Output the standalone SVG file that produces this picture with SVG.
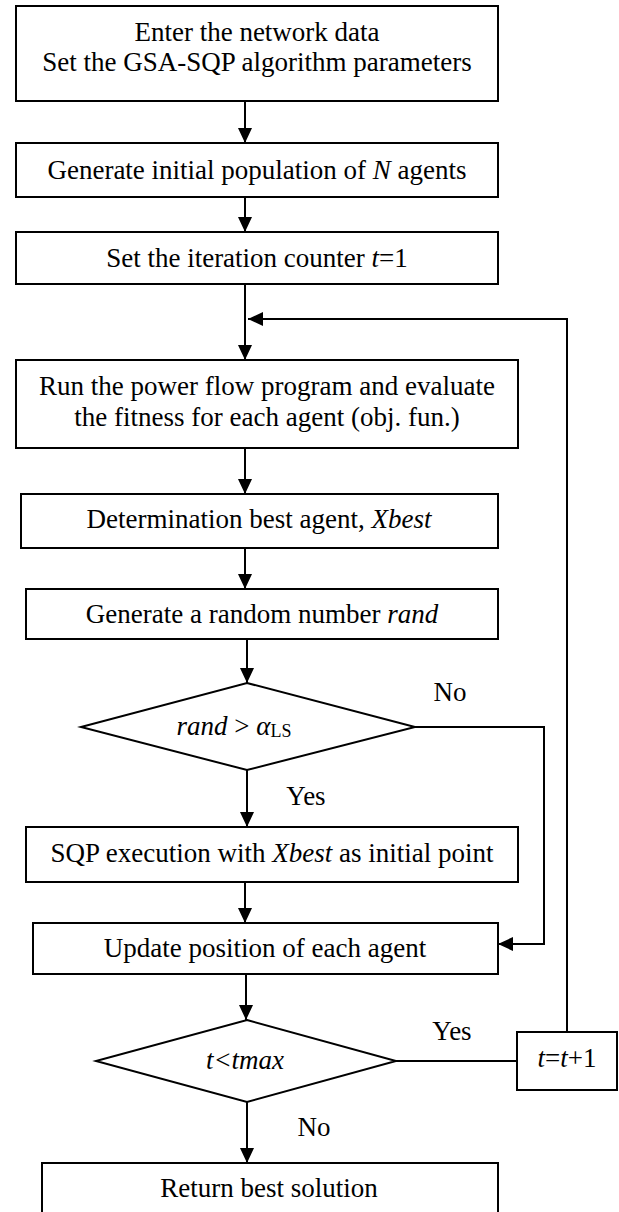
<svg xmlns="http://www.w3.org/2000/svg" width="619" height="1212" viewBox="0 0 619 1212">
<style>
.box{fill:#fff;stroke:#000;stroke-width:2}
.ln{fill:none;stroke:#000;stroke-width:2}
text{font-family:"Liberation Serif","Times New Roman","DejaVu Serif",serif;font-size:27px;fill:#000;text-anchor:middle}
.it{font-style:italic}
.sub{font-size:18px}
</style>
<defs>
<marker id="ah" markerWidth="15" markerHeight="14" refX="15" refY="7" orient="auto" markerUnits="userSpaceOnUse">
<path d="M0,0 L15,7 L0,14 z" fill="#000"/>
</marker>
</defs>
<rect width="619" height="1212" fill="#fff"/>
<g id="connectors">
<line class="ln" x1="245" y1="101" x2="245" y2="143" marker-end="url(#ah)"/>
<line class="ln" x1="245" y1="197" x2="245" y2="232" marker-end="url(#ah)"/>
<line class="ln" x1="245" y1="284" x2="245" y2="360" marker-end="url(#ah)"/>
<polyline class="ln" points="567,1032 567,319 248,319" marker-end="url(#ah)"/>
<line class="ln" x1="245" y1="448" x2="245" y2="494" marker-end="url(#ah)"/>
<line class="ln" x1="245" y1="548" x2="245" y2="589" marker-end="url(#ah)"/>
<line class="ln" x1="247" y1="639" x2="247" y2="683" marker-end="url(#ah)"/>
<line class="ln" x1="247" y1="770" x2="247" y2="827" marker-end="url(#ah)"/>
<polyline class="ln" points="415,727 544,727 544,944 498,944" marker-end="url(#ah)"/>
<line class="ln" x1="245" y1="882" x2="245" y2="923" marker-end="url(#ah)"/>
<line class="ln" x1="246" y1="974" x2="246" y2="1020" marker-end="url(#ah)"/>
<line class="ln" x1="396" y1="1061" x2="517" y2="1061"/>
<line class="ln" x1="247" y1="1102" x2="247" y2="1163" marker-end="url(#ah)"/>
<text x="450" y="701">No</text>
<text x="306" y="805">Yes</text>
<text x="452" y="1040">Yes</text>
<text x="314" y="1136">No</text>
</g>
<g id="n1">
<rect class="box" x="16" y="6" width="482" height="95"/>
<text x="257" y="41">Enter the network data</text>
<text x="257" y="71">Set the GSA-SQP algorithm parameters</text>
</g>
<g id="n2">
<rect class="box" x="16" y="143" width="482" height="54"/>
<text x="257" y="179">Generate initial population of <tspan class="it">N</tspan> agents</text>
</g>
<g id="n3">
<rect class="box" x="16" y="232" width="482" height="52"/>
<text x="257" y="267">Set the iteration counter <tspan class="it">t</tspan>=1</text>
</g>
<g id="n4">
<rect class="box" x="16" y="360" width="502" height="88"/>
<text x="267" y="395">Run the power flow program and evaluate</text>
<text x="267" y="426">the fitness for each agent (obj. fun.)</text>
</g>
<g id="n5">
<rect class="box" x="21" y="494" width="477" height="54"/>
<text x="259" y="528">Determination best agent, <tspan class="it">Xbest</tspan></text>
</g>
<g id="n6">
<rect class="box" x="26" y="589" width="472" height="50"/>
<text x="262" y="623">Generate a random number <tspan class="it">rand</tspan></text>
</g>
<g id="n7">
<polygon class="box" points="247,683 415,727 247,770 81,727"/>
<text x="234" y="735"><tspan class="it">rand</tspan> &gt; <tspan class="it">α</tspan><tspan class="sub" dy="2">LS</tspan></text>
</g>
<g id="n8">
<rect class="box" x="26" y="827" width="492" height="55"/>
<text x="272" y="862">SQP execution with <tspan class="it">Xbest</tspan> as initial point</text>
</g>
<g id="n9">
<rect class="box" x="33" y="923" width="465" height="51"/>
<text x="265" y="957">Update position of each agent</text>
</g>
<g id="n10">
<polygon class="box" points="247,1020 396,1061 247,1102 96,1061"/>
<text x="245" y="1069" class="it">t&lt;tmax</text>
</g>
<g id="n11">
<rect class="box" x="517" y="1032" width="100" height="58"/>
<text x="567" y="1067"><tspan class="it">t</tspan>=<tspan class="it">t</tspan>+1</text>
</g>
<g id="n12">
<rect class="box" x="42" y="1163" width="456" height="60"/>
<text x="269" y="1197">Return best solution</text>
</g>
</svg>
